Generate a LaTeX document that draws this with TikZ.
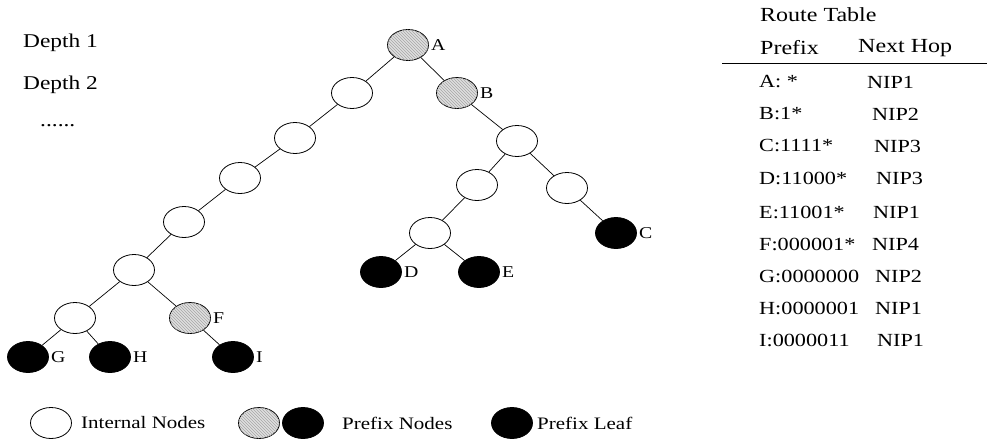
\documentclass[tikz,border=0pt]{standalone}
\usepackage{fontspec}
\setmainfont[FakeStretch=1.2]{Liberation Serif}
\usetikzlibrary{patterns,shapes.geometric}
\begin{document}
\begin{tikzpicture}[x=1pt,y=-1pt,
  tn/.style={ellipse,draw,line width=0.8pt,minimum width=41pt,minimum height=31pt,inner sep=0pt},
  internal/.style={tn,fill=white},
  prefixn/.style={tn,fill=gray!25,postaction={pattern=north west lines,pattern color=gray!70}},
  leafn/.style={tn,fill=black},
  edge/.style={line width=0.7pt},
  lbl/.style={font=\fontsize{16.5}{19}\selectfont,inner sep=0pt,anchor=west},
  dtxt/.style={font=\fontsize{19.5}{22}\selectfont,inner sep=0pt,anchor=west},
  legtxt/.style={font=\fontsize{17.5}{20}\selectfont,inner sep=0pt,anchor=west},
  txt/.style={font=\fontsize{18.5}{21}\selectfont,inner sep=0pt,anchor=west},
  hdr/.style={font=\fontsize{20}{23}\selectfont,inner sep=0pt,anchor=west}]
\useasboundingbox (0,0) rectangle (987,444);
% tree nodes
\node[prefixn] (A) at (408,45) {};
\node[internal] (n1) at (352,93) {};
\node[prefixn] (B) at (457,93) {};
\node[internal] (n2) at (295,138) {};
\node[internal] (n3) at (240,178) {};
\node[internal] (n4) at (184,222) {};
\node[internal] (n5) at (134,270) {};
\node[internal] (n6) at (75,318) {};
\node[prefixn] (F) at (190,318) {};
\node[leafn] (G) at (28,357) {};
\node[leafn] (H) at (110,357) {};
\node[leafn] (I) at (233,357) {};
\node[internal] (r1) at (517,141) {};
\node[internal] (r2) at (477,185) {};
\node[internal] (r3) at (567,188) {};
\node[internal] (r4) at (430,233) {};
\node[leafn] (C) at (616,233) {};
\node[leafn] (D) at (381,272) {};
\node[leafn] (E) at (479,272) {};
% labels
\foreach \n in {A,B,C,D,E,F,G,H,I}
  \node[lbl] (l\n) at ([xshift=2pt]\n.east) {\n};
% edges
\foreach \a/\b in {A/n1,A/B,n1/n2,n2/n3,n3/n4,n4/n5,n5/n6,n5/F,n6/G,n6/H,F/I,B/r1,r1/r2,r1/r3,r2/r4,r3/C,r4/D,r4/E}
  \draw[edge] (\a) -- (\b);
% depth labels
\node[dtxt] (d1) at (23,43) {Depth 1};
\node[dtxt] (d2) at (23,85) {Depth 2};
\node[dtxt] (dd) at (40,126) {......};
% legend
\node[internal] (L1) at (51,423) {};
\node[legtxt] (L1t) at (81,423) {Internal Nodes};
\node[prefixn] (L2) at (259,423) {};
\node[leafn] (L3) at (303,423) {};
\node[legtxt] (L2t) at (342,423) {Prefix Nodes};
\node[leafn] (L4) at (512,423) {};
\node[legtxt] (L4t) at (537,423) {Prefix Leaf};
% table
\node[hdr] (rt) at (760,15) {Route Table};
\node[hdr] (ph) at (760,48) {Prefix};
\node[hdr] (nh) at (858,48) {Next Hop};
\coordinate (tl) at (722,64);
\coordinate (tr) at (987,64);
\draw[line width=1pt] (tl) -- (tr);
\foreach \p/\h/\y/\hx in {A: */NIP1/82/867, B:1*/NIP2/114/872, C:1111*/NIP3/146/874, D:11000*/NIP3/178/876, E:11001*/NIP1/212/873, F:000001*/NIP4/244/872, G:0000000/NIP2/276/875, H:0000001/NIP1/308/875, I:0000011/NIP1/340/877}{
  \node[txt] at (759,\y) {\p};
  \node[txt] at (\hx,\y) {\h};
}
\end{tikzpicture}
\end{document}
